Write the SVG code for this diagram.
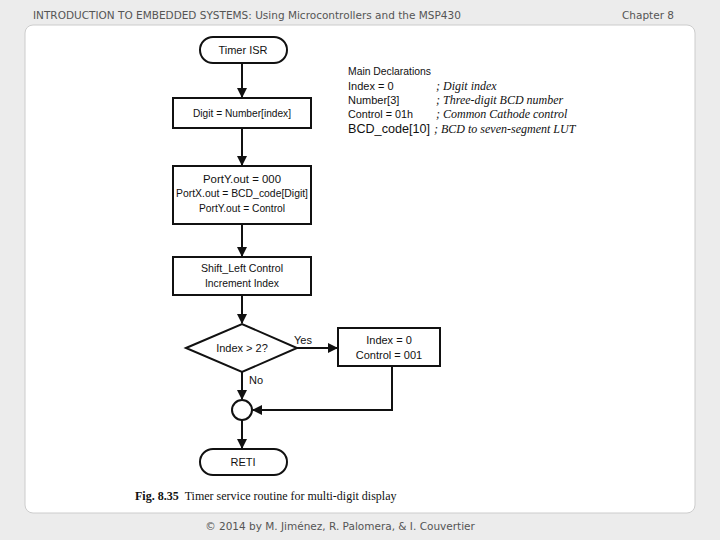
<svg xmlns="http://www.w3.org/2000/svg" width="720" height="540" viewBox="0 0 720 540">
<defs>
<marker id="ah" markerWidth="10" markerHeight="10" refX="9" refY="5" orient="auto" markerUnits="userSpaceOnUse"><path d="M0,0 L10,5 L0,10 Z" fill="#111"/></marker>
<style>
.b{fill:#fff;stroke:#111;stroke-width:2}
.t{font-family:"Liberation Sans",Arial,sans-serif;font-size:11px;fill:#111;text-anchor:middle}
.d{font-family:"Liberation Sans",Arial,sans-serif;font-size:11px;fill:#111}
.c{font-family:"Liberation Serif",serif;font-style:italic;font-size:12px;fill:#111}
.l{stroke:#111;stroke-width:2;fill:none}
.h{font-family:"DejaVu Sans",sans-serif;font-size:10.5px;fill:#555}
</style>
</defs>
<rect width="720" height="540" fill="#ececec"/>
<rect x="25" y="25" width="670" height="488" rx="8" fill="#fff" stroke="#ccc"/>
<text class="h" x="33" y="19">INTRODUCTION TO EMBEDDED SYSTEMS: Using Microcontrollers and the MSP430</text>
<text class="h" x="622" y="19">Chapter 8</text>
<text class="h" x="340" y="530" text-anchor="middle">© 2014 by M. Jiménez, R. Palomera, &amp; I. Couvertier</text>
<g id="connectors">
<line class="l" x1="242" y1="63" x2="242" y2="97" marker-end="url(#ah)"/>
<line class="l" x1="242" y1="128" x2="242" y2="165" marker-end="url(#ah)"/>
<line class="l" x1="242" y1="224" x2="242" y2="256" marker-end="url(#ah)"/>
<line class="l" x1="242" y1="295" x2="242" y2="323" marker-end="url(#ah)"/>
<line class="l" x1="297" y1="348" x2="337" y2="348" marker-end="url(#ah)"/>
<line class="l" x1="242" y1="372" x2="242" y2="399" marker-end="url(#ah)"/>
<polyline class="l" points="392,366 392,410 253,410" marker-end="url(#ah)"/>
<line class="l" x1="242" y1="420" x2="242" y2="448" marker-end="url(#ah)"/>
<text class="d" x="294" y="344">Yes</text>
<text class="d" x="249" y="384">No</text>
</g>
<g id="start"><rect class="b" x="200" y="37" width="87" height="26" rx="13"/><text class="t" x="243" y="54">Timer ISR</text></g>
<g id="digit"><rect class="b" x="173" y="98" width="138" height="30"/><text class="t" x="242" y="117" textLength="98" lengthAdjust="spacingAndGlyphs">Digit = Number[index]</text></g>
<g id="port"><rect class="b" x="173" y="166" width="138" height="58"/><text class="t" x="242" y="183" textLength="78" lengthAdjust="spacingAndGlyphs">PortY.out = 000</text><text class="t" x="242" y="197" textLength="132" lengthAdjust="spacingAndGlyphs">PortX.out = BCD_code[Digit]</text><text class="t" x="242" y="212" textLength="86" lengthAdjust="spacingAndGlyphs">PortY.out = Control</text></g>
<g id="shift"><rect class="b" x="173" y="257" width="138" height="38"/><text class="t" x="242" y="272" textLength="82" lengthAdjust="spacingAndGlyphs">Shift_Left Control</text><text class="t" x="242" y="287" textLength="74" lengthAdjust="spacingAndGlyphs">Increment Index</text></g>
<g id="decision"><polygon class="b" points="186,348 242,324 297,348 242,372"/><text class="t" x="242" y="352">Index &gt; 2?</text></g>
<g id="reset"><rect class="b" x="338" y="328" width="102" height="38"/><text class="t" x="389" y="344">Index = 0</text><text class="t" x="389" y="359">Control = 001</text></g>
<g id="join"><circle class="b" cx="242" cy="410" r="10"/></g>
<g id="end"><rect class="b" x="200" y="449" width="87" height="26" rx="13"/><text class="t" x="243" y="466">RETI</text></g>
<g id="decl">
<text class="d" x="348" y="75" textLength="83" lengthAdjust="spacingAndGlyphs">Main Declarations</text>
<text class="d" x="348" y="90">Index = 0</text><text class="c" x="436" y="90">; Digit index</text>
<text class="d" x="348" y="104">Number[3]</text><text class="c" x="436" y="104">; Three-digit BCD number</text>
<text class="d" x="348" y="118" textLength="65" lengthAdjust="spacingAndGlyphs">Control = 01h</text><text class="c" x="436" y="118">; Common Cathode control</text>
<text class="d" x="348" y="133" style="font-size:13px" textLength="82" lengthAdjust="spacingAndGlyphs">BCD_code[10]</text><text class="c" x="434" y="133">; BCD to seven-segment LUT</text>
</g>
<text x="135" y="500" style="font-family:'Liberation Serif',serif;font-size:12px;fill:#111"><tspan font-weight="bold">Fig. 8.35</tspan><tspan dx="6">Timer service routine for multi-digit display</tspan></text>
</svg>
